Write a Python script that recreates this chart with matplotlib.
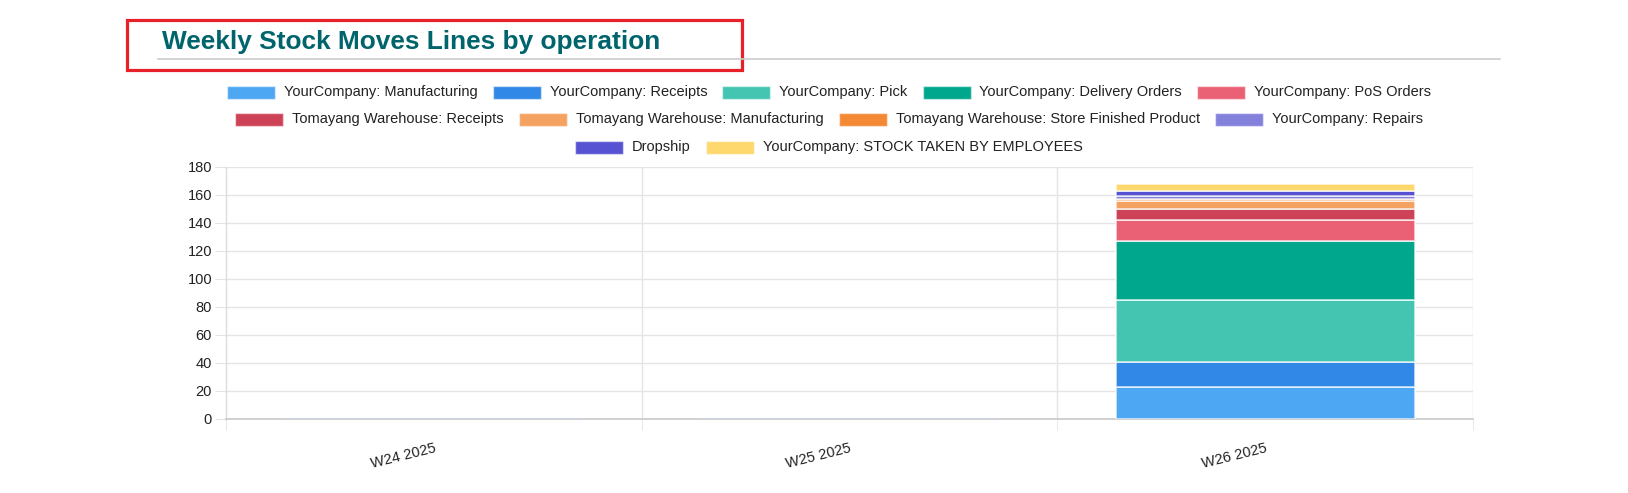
import matplotlib
matplotlib.use("Agg")
import matplotlib.pyplot as plt
from matplotlib.patches import Rectangle
from matplotlib.lines import Line2D

plt.rcParams['font.family'] = ['Liberation Sans', 'DejaVu Sans']

W, H = 1628, 493

weeks = ['W24 2025', 'W25 2025', 'W26 2025']
operations = [
    'YourCompany: Manufacturing',
    'YourCompany: Receipts',
    'YourCompany: Pick',
    'YourCompany: Delivery Orders',
    'YourCompany: PoS Orders',
    'Tomayang Warehouse: Receipts',
    'Tomayang Warehouse: Manufacturing',
    'Tomayang Warehouse: Store Finished Product',
    'YourCompany: Repairs',
    'Dropship',
    'YourCompany: STOCK TAKEN BY EMPLOYEES',
]
# move lines per week, one list per operation (W24, W25, W26)
manufacturing = [0, 0, 23]
receipts = [0, 0, 18]
pick = [0, 0, 44]
delivery = [0, 0, 42]
pos_orders = [0, 0, 15]
tw_receipts = [0, 0, 8]
tw_manufacturing = [0, 0, 6]
tw_store_finished = [0, 0, 1]
repairs = [0, 0, 2]
dropship = [0, 0, 4]
stock_taken = [0, 0, 5]
series = [manufacturing, receipts, pick, delivery, pos_orders, tw_receipts,
          tw_manufacturing, tw_store_finished, repairs, dropship, stock_taken]
colors = ['#4EA7F2', '#3188E6', '#43C5B1', '#00A78D', '#EA6175', '#CE4257',
          '#F4A261', '#F48935', '#8481DD', '#5752D1', '#FFD86D']
legend_rows = [[0, 1, 2, 3, 4], [5, 6, 7, 8], [9, 10]]


def fx(px):
    return px / W


def fy(py):
    return 1 - py / H


fig = plt.figure(figsize=(W / 100, H / 100), dpi=100)
left, right, top, bottom = 226, 1473, 167, 419
ax = fig.add_axes([fx(left), fy(bottom), fx(right - left), (bottom - top) / H])

x = list(range(len(weeks)))
base = [0] * len(weeks)
for vals, col in zip(series, colors):
    edges = [(1, 1, 1, 0.75) if v > 0 else (0.80, 0.84, 0.90, 1) for v in vals]
    ax.bar(x, vals, width=0.72, bottom=base, color=col,
           edgecolor=edges, linewidth=1.2, zorder=3)
    base = [b + v for b, v in zip(base, vals)]

ax.set_xlim(-0.5, len(weeks) - 0.5)
ax.set_ylim(0, 180)
ax.set_yticks(range(0, 181, 20))
ax.set_xticks(x)
ax.set_xticklabels(weeks, rotation=14, ha='right', va='top',
                   rotation_mode='anchor')
ax.set_xticks([i - 0.5 for i in range(len(weeks) + 1)], minor=True)

ax.grid(False)
for yv in range(20, 181, 20):
    ax.axhline(yv, color='#e4e4e4', lw=1, zorder=1)
for xv in [0.5, 1.5, 2.5]:
    ax.axvline(xv, color='#e4e4e4', lw=1, zorder=1)

for s in ['top', 'right']:
    ax.spines[s].set_visible(False)
ax.spines['left'].set_color('#dcdcdc')
ax.spines['bottom'].set_color('#c8c8c8')
ax.spines['left'].set_linewidth(1)
ax.spines['bottom'].set_linewidth(1.2)

ax.tick_params(axis='y', length=8, color='#e4e4e4', labelsize=10.5,
               labelcolor='#222222', pad=2)
ax.tick_params(axis='x', which='major', length=0, labelsize=10.5,
               labelcolor='#222222', pad=16)
ax.tick_params(axis='x', which='minor', length=8, color='#e4e4e4')

# title block
fig.text(fx(162), fy(42), 'Weekly Stock Moves Lines by operation',
         fontsize=18.9, fontweight='bold', color='#00646c',
         ha='left', va='center')
fig.add_artist(Line2D([fx(158), fx(1500)], [fy(58.5), fy(58.5)],
                      color='#cccccc', lw=1.2))
fig.add_artist(Rectangle((fx(127), fy(70)), fx(742 - 127), (70 - 20) / H,
                         fill=False, edgecolor='#e8202a', lw=2.3))

# legend, one centred row at a time
renderer = fig.canvas.get_renderer()
box_w, box_h, gap_txt, gap_item = 48, 13, 9, 15
centre = 829
row_y = [92, 119, 147]
for row, yc in zip(legend_rows, row_y):
    widths = []
    for i in row:
        t = fig.text(0, 0, operations[i], fontsize=10.5)
        widths.append(t.get_window_extent(renderer).width)
        t.remove()
    total = sum(box_w + gap_txt + w for w in widths) + gap_item * (len(row) - 1)
    xpos = centre - total / 2
    for i, w in zip(row, widths):
        fig.add_artist(Rectangle((fx(xpos), fy(yc + box_h / 2)), fx(box_w),
                                 box_h / H, facecolor=colors[i],
                                 edgecolor=(1, 1, 1, 0.5), lw=1))
        fig.text(fx(xpos + box_w + gap_txt), fy(yc), operations[i],
                 fontsize=10.5, color='#222222', ha='left', va='center')
        xpos += box_w + gap_txt + w + gap_item

fig.savefig('out.png', dpi=100)
